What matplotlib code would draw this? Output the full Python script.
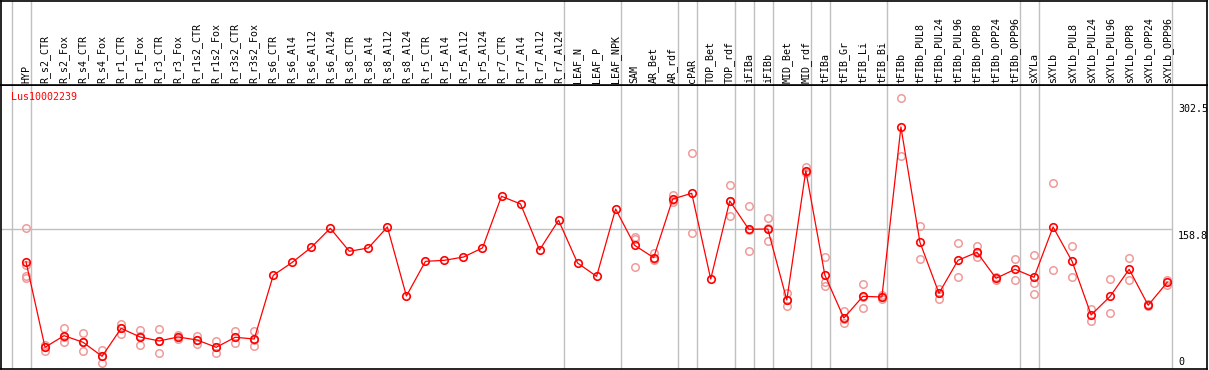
import matplotlib
matplotlib.use("Agg")
import matplotlib.pyplot as plt

categories = ["HYP", "R_s2_CTR", "R_s2_Fox", "R_s4_CTR", "R_s4_Fox", "R_r1_CTR", "R_r1_Fox",
              "R_r3_CTR", "R_r3_Fox", "R_r1s2_CTR", "R_r1s2_Fox", "R_r3s2_CTR", "R_r3s2_Fox",
              "R_s6_CTR", "R_s6_Al4", "R_s6_Al12", "R_s6_Al24", "R_s8_CTR", "R_s8_Al4",
              "R_s8_Al12", "R_s8_Al24", "R_r5_CTR", "R_r5_Al4", "R_r5_Al12", "R_r5_Al24",
              "R_r7_CTR", "R_r7_Al4", "R_r7_Al12", "R_r7_Al24", "LEAF_N", "LEAF_P", "LEAF_NPK",
              "SAM", "AR_Bet", "AR_rdf", "cPAR", "TOP_Bet", "TOP_rdf", "iFIBa", "iFIBb",
              "MID_Bet", "MID_rdf", "tFIBa", "tFIB_Gr", "tFIB_Li", "tFIB_Bi", "tFIBb",
              "tFIBb_PUL8", "tFIBb_PUL24", "tFIBb_PUL96", "tFIBb_OPP8", "tFIBb_OPP24",
              "tFIBb_OPP96", "sXYLa", "sXYLb", "sXYLb_PUL8", "sXYLb_PUL24", "sXYLb_PUL96",
              "sXYLb_OPP8", "sXYLb_OPP24", "sXYLb_OPP96"]

means = [121.7, 24.6, 37.8, 30.3, 14.4, 46.1, 36.3, 31.8, 36.3, 32.9, 24.6, 36.0, 34.0,
         106.3, 121.0, 138.0, 159.6, 133.5, 137.3, 161.1, 82.8, 122.1, 123.3, 127.0, 137.3,
         195.9, 187.2, 135.0, 168.7, 120.2, 105.1, 181.5,
         140.3, 126.3, 192.8, 199.3, 102.1, 190.6, 158.5, 158.8, 78.3, 224.9, 106.6, 57.8,
         82.4, 81.7, 274.5, 143.7, 85.9, 123.3, 132.4, 102.9, 113.1, 104.0, 161.1, 122.1,
         61.3, 82.4, 113.1, 72.3, 98.3]

replicates = [
    [160.3, 118.0, 105.8, 102.9],  # HYP
    [27.2, 25.5, 20.8],
    [46.5, 36.5, 30.3],
    [40.5, 30.3, 20.0],
    [21.9, 14.2, 7.2],
    [51.4, 46.8, 40.1],
    [44.2, 37.8, 26.9],
    [45.4, 32.2, 17.8],
    [38.6, 36.6, 33.7],
    [37.8, 32.5, 28.4],
    [31.4, 24.6, 17.8],
    [43.1, 35.8, 29.1],
    [43.1, 33.2, 25.7],
    [], [], [], [], [], [], [], [], [], [], [], [], [], [], [], [], [], [], [],
    [149.7, 147.5, 115.7],  # SAM
    [131.2, 125.0, 123.6],  # AR_Bet
    [197.7, 192.0, 189.1],  # AR_rdf
    [245.0, 153.9],         # cPAR
    [],                     # TOP_Bet
    [208.4, 190.0, 173.5],  # TOP_rdf
    [184.9, 158.0, 133.5],  # iFIBa
    [171.3, 160.0, 144.8],  # iFIBb
    [85.9, 78.0, 71.1],     # MID_Bet
    [228.8, 224.0, 222.0],  # MID_rdf
    [127.0, 99.0, 94.1],    # tFIBa
    [65.4, 57.0, 51.8],     # tFIB_Gr
    [96.4, 82.0, 69.6],     # tFIB_Li
    [84.3, 81.5, 79.5],     # tFIB_Bi
    [307.1, 241.6],         # tFIBb
    [162.2, 124.8],         # tFIBb_PUL8
    [91.1, 86.0, 79.4],     # tFIBb_PUL24
    [142.6, 104.4],         # tFIBb_PUL96
    [139.9, 132.0, 126.7],  # tFIBb_OPP8
    [104.5, 101.5],         # tFIBb_OPP24
    [124.8, 101.3],         # tFIBb_OPP96
    [129.3, 97.9, 84.7],    # sXYLa
    [210.6, 112.0],         # sXYLb
    [139.5, 104.4],         # sXYLb_PUL8
    [68.4, 54.1],           # sXYLb_PUL24
    [101.7, 63.2],          # sXYLb_PUL96
    [125.9, 100.6],         # sXYLb_OPP8
    [73.5, 71.5],           # sXYLb_OPP24
    [101.0, 95.6],          # sXYLb_OPP96
]

# index of last category of each group (group separators)
group_ends = [-1, 0, 28, 31, 34, 35, 37, 38, 39, 41, 42, 45, 52, 53, 60]
y_ticks = [0, 158.8, 302.5]
y_tick_labels = ["0", "158.8", "302.5"]
gene_name = "Lus10002239"

W, H = 1209, 370
fig = plt.figure(figsize=(W / 100, H / 100), dpi=100)
fig.patch.set_facecolor("white")

step = 19.02
x0 = 26.0
xl = (1 - x0) / step
xr = (1207 - x0) / step
pxper = 0.8816
ytop = (369 - 85) / pxper

mono = "DejaVu Sans Mono"
fs = 7.2
grey = "#c0c0c0"

ax = fig.add_axes([1 / W, 1 / H, 1206 / W, 284 / H])
ax.set_xlim(xl, xr)
ax.set_ylim(0, ytop)
ax.set_xticks([])
ax.set_yticks([])
for s in ax.spines.values():
    s.set_color("black")
    s.set_linewidth(1.2)

axl = fig.add_axes([1 / W, 285 / H, 1206 / W, 84.5 / H])
axl.set_xlim(xl, xr)
axl.set_ylim(0, 1)
axl.set_xticks([])
axl.set_yticks([])
for s in axl.spines.values():
    s.set_color("black")
    s.set_linewidth(1.2)

sep = 0.26
for g in group_ends:
    for a in (ax, axl):
        a.axvline(g + sep, color=grey, lw=1.0, zorder=1)

ax.hlines(y_ticks[1], xl, 60 + sep, color=grey, lw=1.0, zorder=1)

xs = list(range(len(categories)))
for i, reps in enumerate(replicates):
    if reps:
        ax.plot([i] * len(reps), reps, linestyle="none", marker="o", markersize=5.4,
                markerfacecolor="none", markeredgecolor="#f09a9a", markeredgewidth=1.1, zorder=2)

ax.plot(xs, means, color="#ff0000", lw=0.9, marker="o", markersize=5.4,
        markerfacecolor="none", markeredgecolor="#ff0000", markeredgewidth=1.2, zorder=3)

for i, c in enumerate(categories):
    axl.text(i, 2 / 85, c, rotation=90, ha="center", va="bottom", fontsize=fs,
             family=mono, color="black")

lab_x = (1178 - x0) / step
ax.annotate(y_tick_labels[2], (lab_x, y_ticks[2]), xytext=(0, -1), textcoords="offset points",
            ha="left", va="top", fontsize=fs, family=mono)
ax.annotate(y_tick_labels[1], (lab_x, y_ticks[1]), xytext=(0, -1.5), textcoords="offset points",
            ha="left", va="top", fontsize=fs, family=mono)
ax.annotate(y_tick_labels[0], (lab_x, y_ticks[0]), xytext=(0.5, 1.5), textcoords="offset points",
            ha="left", va="bottom", fontsize=fs, family=mono)

ax.text(10 / 1206, 1 - 12 / 284, gene_name, transform=ax.transAxes, ha="left", va="center",
        fontsize=fs, family=mono, color="#ff0000")

fig.savefig("out.png", dpi=100)
